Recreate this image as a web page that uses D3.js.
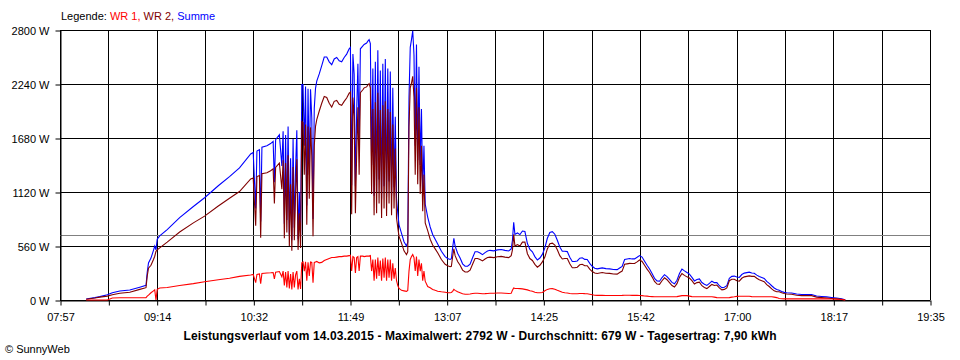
<!DOCTYPE html>
<html>
<head>
<meta charset="utf-8">
<script src="https://cdn.jsdelivr.net/npm/d3@7"></script>
<style>
    body { margin: 0; background: #fff; }
    svg { display: block; font-family: "Liberation Sans", Arial, sans-serif; font-size: 11px; }
</style>
</head>
<body>
<svg id="canvas" width="960" height="360"></svg>
<script>
let times = [
    '08:18','08:25','08:29','08:35','08:39','08:45','08:53','09:01','09:06','09:07',
    '09:08','09:10','09:12','09:13','09:14','09:15','09:17','09:23','09:33','09:44',
    '09:53','10:04','10:13','10:21','10:30','10:32','10:34','10:35','10:37','10:38',
    '10:39','10:43','10:46','10:48','10:49','10:50','10:53','10:55','10:56','10:57',
    '10:58','10:59','11:00','11:01','11:02','11:03','11:04','11:05','11:06','11:07',
    '11:08','11:09','11:10','11:11','11:12','11:13','11:14','11:15','11:16','11:17',
    '11:18','11:19','11:20','11:21','11:22','11:23','11:25','11:27','11:29','11:31',
    '11:33','11:35','11:37','11:39','11:41','11:43','11:45','11:47','11:49','11:50',
    '11:51','11:52','11:53','11:54','11:55','11:56','11:57','11:58','12:00','12:01',
    '12:03','12:04','12:05','12:06','12:07','12:08','12:09','12:10','12:11','12:12',
    '12:13','12:14','12:15','12:16','12:17','12:18','12:19','12:20','12:21','12:22',
    '12:23','12:24','12:25','12:26','12:27','12:28','12:29','12:31','12:33','12:35',
    '12:36','12:37','12:38','12:39','12:40','12:41','12:42','12:43','12:44','12:45',
    '12:46','12:47','12:48','12:49','12:50','12:52','12:54','12:56','12:58','13:00',
    '13:03','13:06','13:08','13:10','13:11','13:12','13:13','13:14','13:16','13:18',
    '13:20','13:22','13:24','13:26','13:28','13:30','13:32','13:34','13:36','13:38',
    '13:40','13:42','13:45','13:48','13:51','13:54','13:57','13:59','14:00','14:01',
    '14:02','14:04','14:06','14:08','14:10','14:12','14:14','14:16','14:18','14:20',
    '14:22','14:24','14:26','14:28','14:30','14:32','14:34','14:36','14:38','14:40',
    '14:42','14:44','14:46','14:48','14:50','14:52','14:54','14:56','14:58','15:00',
    '15:02','15:04','15:06','15:08','15:10','15:12','15:15','15:18','15:21','15:24',
    '15:26','15:28','15:30','15:32','15:34','15:36','15:38','15:40','15:42','15:44',
    '15:46','15:48','15:50','15:52','15:54','15:56','15:58','16:00','16:02','16:04',
    '16:06','16:08','16:10','16:12','16:14','16:16','16:18','16:20','16:22','16:24',
    '16:26','16:28','16:30','16:32','16:34','16:36','16:38','16:40','16:42','16:44',
    '16:46','16:48','16:50','16:52','16:54','16:56','16:58','17:00','17:02','17:04',
    '17:06','17:08','17:10','17:12','17:14','17:16','17:18','17:20','17:22','17:24',
    '17:26','17:28','17:30','17:32','17:34','17:36','17:38','17:40','17:44','17:48',
    '17:52','17:56','18:00','18:04','18:08','18:12','18:16','18:20','18:24','18:27'
]

let wr1 = [
    0,0,0,0,20,23,23,23,25,40,
    50,75,95,105,0,110,125,130,150,170,
    190,210,225,245,260,265,180,265,270,170,
    275,280,282,285,220,288,295,240,300,150,
    290,130,300,120,270,110,290,130,260,300,
    110,220,115,385,395,300,395,200,390,250,
    395,390,180,390,395,400,385,390,410,420,
    430,440,440,445,450,450,455,455,460,465,
    300,450,440,280,440,450,300,455,455,450,
    455,455,455,460,300,420,200,420,220,440,
    250,410,200,430,230,440,200,420,230,420,
    200,380,220,330,200,150,120,100,95,90,
    100,300,420,450,472,440,300,450,250,420,
    300,380,200,300,195,140,127,110,100,91,
    85,80,75,75,78,90,110,100,85,75,
    65,60,60,62,68,70,70,68,65,66,
    68,70,70,72,72,70,68,70,100,125,
    120,120,118,115,110,105,95,90,80,75,
    75,78,95,110,116,118,112,100,90,80,
    75,72,68,65,65,65,68,68,66,65,
    60,55,50,48,48,48,47,47,47,47,
    47,48,50,50,50,48,48,48,46,45,
    42,40,37,35,33,33,33,33,33,33,
    33,33,33,35,40,45,47,45,40,35,
    33,33,33,33,33,33,33,33,30,25,
    23,23,23,23,25,30,33,38,39,39,
    39,39,39,35,33,33,33,33,33,33,
    33,33,30,25,15,13,12,12,12,12,
    12,12,12,12,12,12,10,8,5,0
]

let wr2 = [
    8,20,30,40,55,70,80,110,128,250,
    330,360,420,454,505,520,540,600,705,800,
    870,975,1055,1125,1255,1265,770,1280,1290,645,
    1310,1320,1340,1360,1000,1375,1420,1150,1450,640,
    1420,700,1500,560,1200,510,1380,620,1100,1460,
    520,900,540,1850,1840,1300,1820,780,1800,1050,
    1790,1500,660,1600,1800,1870,1960,2040,2110,2100,
    2040,2000,2060,2070,2030,2020,2060,2095,2145,2155,
    890,2100,1900,900,1500,2000,1300,2150,2180,2200,
    2210,2230,2245,2200,1100,1980,880,2050,900,2150,
    1000,1970,850,2020,950,2060,870,1980,1000,1950,
    880,1820,950,1570,850,750,660,590,510,470,
    500,1800,2200,2250,2320,2100,1300,2200,1200,2000,
    1100,1600,920,1300,800,720,630,570,530,490,
    420,370,355,345,350,450,530,460,400,360,
    310,290,290,310,370,430,430,420,405,425,
    440,445,440,448,452,445,440,460,520,680,
    560,575,560,600,600,480,430,410,370,340,
    360,395,445,530,584,590,570,520,460,425,
    430,430,375,335,335,340,365,370,355,355,
    320,295,280,275,280,285,278,276,270,268,
    285,300,370,375,380,378,378,395,415,400,
    360,320,285,240,192,165,162,200,230,210,
    180,150,135,170,235,275,255,240,228,200,
    165,180,185,148,130,118,140,162,150,155,
    125,105,110,125,200,215,215,200,195,225,
    240,245,250,245,245,225,210,200,190,160,
    140,115,95,85,85,75,67,63,60,50,
    45,45,45,30,25,20,16,12,8,0
]

let summe = [
    10,25,35,55,75,93,103,133,153,290,
    385,435,515,559,520,630,665,730,855,970,
    1060,1185,1280,1370,1515,1530,950,1545,1560,815,
    1585,1600,1622,1645,1220,1663,1715,1390,1750,790,
    1710,830,1800,680,1470,620,1670,750,1360,1760,
    630,1120,655,2235,2235,1600,2215,980,2190,1300,
    2185,1890,840,1990,2195,2270,2345,2430,2520,2520,
    2470,2440,2500,2515,2480,2470,2515,2550,2605,2620,
    1190,2550,2340,1180,1940,2450,1600,2605,2635,2650,
    2665,2685,2700,2660,1400,2400,1080,2470,1120,2590,
    1250,2380,1050,2450,1180,2500,1070,2400,1230,2370,
    1080,2200,1170,1900,1050,900,780,690,605,560,
    600,2100,2620,2700,2792,2540,1600,2650,1450,2420,
    1400,1980,1120,1600,995,860,757,680,630,580,
    505,450,430,420,428,540,640,560,485,435,
    375,350,350,372,438,500,500,488,470,491,
    508,515,510,520,524,515,508,530,620,805,
    680,695,678,715,710,585,525,500,450,415,
    435,473,540,640,700,708,682,620,550,505,
    505,502,443,400,400,405,433,438,421,420,
    380,350,330,323,328,333,325,323,317,315,
    332,348,420,425,430,426,426,443,461,445,
    402,360,322,275,225,198,195,233,263,243,
    213,183,168,205,275,320,302,285,268,235,
    198,213,218,181,163,151,173,195,180,180,
    148,128,133,148,225,245,248,238,234,264,
    279,284,289,280,278,258,243,233,223,193,
    173,148,125,110,100,88,79,75,72,62,
    57,57,57,42,37,32,26,20,13,2
]

let average = 679
let yTicks = [0, 560, 1120, 1680, 2240, 2800]
let xLabels = ['07:57', '09:14', '10:32', '11:49', '13:07', '14:25', '15:42', '17:00', '18:17', '19:35']
let legend = [
    {name: 'WR 1, ', color: '#ff0000'},
    {name: 'WR 2, ', color: '#800000'},
    {name: 'Summe', color: '#0000ff'}
]
let title = 'Leistungsverlauf vom 14.03.2015 - Maximalwert: 2792 W - Durchschnitt: 679 W - Tagesertrag: 7,90 kWh'

let svg = d3.select('#canvas')

let parseTime = d3.timeParse('%H:%M')
let start = parseTime(xLabels[0])
let end = parseTime(xLabels[xLabels.length - 1])

let xScale = d3.scaleTime()
               .domain([start, end])
               .range([60, 930])
let yScale = d3.scaleLinear()
               .domain([0, 2800])
               .range([300, 30])

// 18 Rasterintervalle, beschriftet wird jede zweite Linie
let gridTimes = d3.range(19).map((i) => new Date(+start + i * (end - start) / 18))

// Raster
svg.append('g')
   .selectAll('line')
   .data(gridTimes)
   .enter()
   .append('line')
   .attr('x1', (d) => Math.round(xScale(d)) + 0.5)
   .attr('x2', (d) => Math.round(xScale(d)) + 0.5)
   .attr('y1', yScale(2800))
   .attr('y2', yScale(0))
   .attr('stroke', '#000')

svg.append('g')
   .selectAll('line')
   .data(yTicks)
   .enter()
   .append('line')
   .attr('x1', xScale(start))
   .attr('x2', xScale(end))
   .attr('y1', (d) => Math.round(yScale(d)) + 0.5)
   .attr('y2', (d) => Math.round(yScale(d)) + 0.5)
   .attr('stroke', '#000')

// Durchschnitt
svg.append('line')
   .attr('x1', xScale(start))
   .attr('x2', xScale(end))
   .attr('y1', Math.round(yScale(average)) + 0.5)
   .attr('y2', Math.round(yScale(average)) + 0.5)
   .attr('stroke', '#808080')

// Achsen
let xAxis = d3.axisBottom(xScale)
              .tickValues(gridTimes)
              .tickSize(5)
              .tickSizeOuter(0)
              .tickPadding(8)
              .tickFormat((d, i) => i % 2 === 0 ? xLabels[i / 2] : '')

let yAxis = d3.axisLeft(yScale)
              .tickValues(yTicks)
              .tickSize(5)
              .tickSizeOuter(0)
              .tickPadding(6)
              .tickFormat((d) => d + ' W')

svg.append('g')
   .attr('transform', 'translate(0.5, 300.5)')
   .call(xAxis)
   .call((g) => g.selectAll('text').attr('font-size', 11).attr('font-family', null))

svg.append('g')
   .attr('transform', 'translate(60.5, 0.5)')
   .call(yAxis)
   .call((g) => g.selectAll('text').attr('font-size', 11).attr('font-family', null))

svg.selectAll('.domain').attr('stroke', '#000')
svg.selectAll('.tick line').attr('stroke', '#000')

// Kurven: Summe zuerst, WR 1 obenauf
let series = [
    {values: summe, color: '#0000ff'},
    {values: wr2, color: '#800000'},
    {values: wr1, color: '#ff0000'}
]

let line = d3.line()
             .x((d, i) => xScale(parseTime(times[i])))
             .y((d) => yScale(d))

svg.append('g')
   .selectAll('path')
   .data(series)
   .enter()
   .append('path')
   .attr('d', (d) => line(d.values))
   .attr('fill', 'none')
   .attr('stroke', (d) => d.color)
   .attr('stroke-width', 1.1)

// Legende
let legendText = svg.append('text')
                    .attr('x', 61)
                    .attr('y', 20)
legendText.append('tspan')
          .attr('fill', '#000')
          .text('Legende: ')
legendText.selectAll('tspan.item')
          .data(legend)
          .enter()
          .append('tspan')
          .attr('class', 'item')
          .attr('fill', (d) => d.color)
          .text((d) => d.name)

svg.append('text')
   .attr('x', 480)
   .attr('y', 340)
   .attr('text-anchor', 'middle')
   .attr('font-weight', 'bold')
   .attr('font-size', 12)
   .attr('textLength', 593)
   .attr('lengthAdjust', 'spacing')
   .text(title)

svg.append('text')
   .attr('x', 5)
   .attr('y', 353)
   .text('\u00a9 SunnyWeb')
</script>
</body>
</html>
